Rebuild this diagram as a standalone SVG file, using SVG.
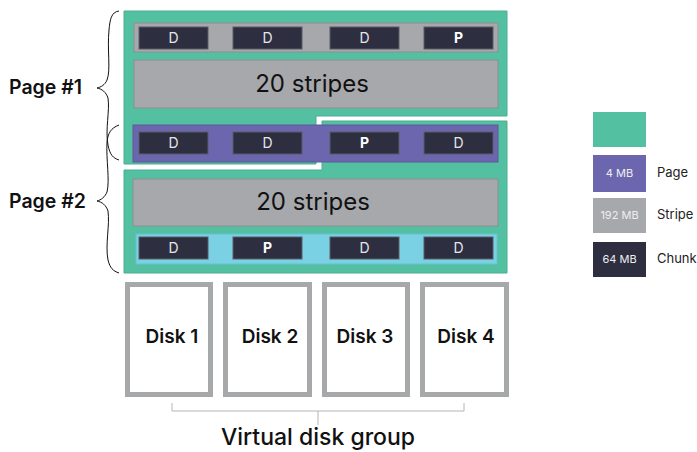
<svg xmlns="http://www.w3.org/2000/svg" width="697" height="452" viewBox="0 0 697 452">
<style>
.page{fill:#52c0a1;stroke:#4aae91;stroke-width:1}
.stripe{fill:#a7a8ab;stroke:#8d8e91;stroke-width:1}
.chunk{fill:#2d2f40;stroke:#5a5c66;stroke-width:1}
.cl{font-family:Inter,"Liberation Sans",sans-serif;font-size:14px;fill:#e6e6ea;text-anchor:middle}
.clb{font-weight:700;fill:#ffffff}
.big{font-family:Inter,"Liberation Sans",sans-serif;font-size:24px;fill:#111;text-anchor:middle}
.disk{fill:#ffffff;stroke:#a7a8aa;stroke-width:5}
.dl{font-family:Inter,"Liberation Sans",sans-serif;font-size:19px;font-weight:600;fill:#111;text-anchor:middle}
.brace{fill:none;stroke:#111;stroke-width:1}
.pl{font-family:Inter,"Liberation Sans",sans-serif;font-size:19.5px;font-weight:600;fill:#111}
.lg{font-family:Inter,"Liberation Sans",sans-serif;font-size:13px;fill:#222}
.lw{font-family:Inter,"Liberation Sans",sans-serif;font-size:11px;fill:#eeeeee;text-anchor:middle}
</style>

<g id="page1-area">
<polygon class="page" points="124,11 507,11 507,116 316,116 316,164 124,164"/>
</g>
<g id="page2-area">
<polygon class="page" points="322,121 507,121 507,273 124,273 124,170 322,170"/>
</g>

<g id="stripe-row1">
<rect class="stripe" x="134" y="23" width="364" height="29"/>
<rect class="chunk" x="139" y="27" width="69" height="22"/><text class="cl" x="173.5" y="43">D</text>
<rect class="chunk" x="233" y="27" width="69" height="22"/><text class="cl" x="267.5" y="43">D</text>
<rect class="chunk" x="330" y="27" width="69" height="22"/><text class="cl" x="364.5" y="43">D</text>
<rect class="chunk" x="424" y="27" width="69" height="22"/><text class="cl clb" x="458.5" y="43">P</text>
</g>

<g id="stripes-block1">
<rect class="stripe" x="134" y="60" width="364" height="48"/>
<text class="big" x="312" y="92">20 stripes</text>
</g>

<g id="stripe-row-purple">
<rect x="133" y="125" width="365" height="37" fill="#6b66ad" stroke="#5c589a" stroke-width="1"/>
<rect class="chunk" x="139" y="132" width="69" height="22"/><text class="cl" x="173.5" y="148">D</text>
<rect class="chunk" x="233" y="132" width="69" height="22"/><text class="cl" x="267.5" y="148">D</text>
<rect class="chunk" x="330" y="132" width="69" height="22"/><text class="cl clb" x="364.5" y="148">P</text>
<rect class="chunk" x="424" y="132" width="69" height="22"/><text class="cl" x="458.5" y="148">D</text>
</g>

<g id="stripes-block2">
<rect class="stripe" x="133" y="179" width="365" height="47"/>
<text class="big" x="313" y="210">20 stripes</text>
</g>

<g id="stripe-row-cyan">
<rect x="136" y="234" width="361" height="30" fill="#7ad1e4" stroke="#6bbfd2" stroke-width="1"/>
<rect class="chunk" x="139" y="237" width="69" height="22"/><text class="cl" x="173.5" y="253">D</text>
<rect class="chunk" x="233" y="237" width="69" height="22"/><text class="cl clb" x="267.5" y="253">P</text>
<rect class="chunk" x="330" y="237" width="69" height="22"/><text class="cl" x="364.5" y="253">D</text>
<rect class="chunk" x="424" y="237" width="69" height="22"/><text class="cl" x="458.5" y="253">D</text>
</g>

<g id="page1-brace">
<path class="brace" d="M119,11 C111,12 110,20 109,30 C107,50 111,70 107,80 C105,85 101,87 97,88 C102,89 106,92 108,98 C110,110 105,130 108,145 C110,155 113,158 119,160"/>
<text class="pl" x="9" y="94">Page #1</text>
</g>
<g id="page2-brace">
<path class="brace" d="M119,125 C111,128 108,133 107,142 C106,160 110,180 107,192 C105,197 101,200 97,201 C102,202 106,205 108,211 C110,225 105,245 108,260 C110,268 113,271 119,273"/>
<text class="pl" x="9" y="208">Page #2</text>
</g>

<g id="disk1"><rect class="disk" x="127.5" y="284.5" width="83" height="110"/><text class="dl" x="172" y="343">Disk 1</text></g>
<g id="disk2"><rect class="disk" x="225.5" y="284.5" width="84" height="110"/><text class="dl" x="270" y="343">Disk 2</text></g>
<g id="disk3"><rect class="disk" x="324.5" y="284.5" width="83" height="110"/><text class="dl" x="365" y="343">Disk 3</text></g>
<g id="disk4"><rect class="disk" x="422.5" y="284.5" width="84" height="110"/><text class="dl" x="466" y="343">Disk 4</text></g>

<g id="connectors">
<path d="M172,403 L172,411 L464,411 L464,403 M318,411 L318,425" fill="none" stroke="#b5b6b8" stroke-width="1"/>
</g>
<g id="group-label">
<text x="318" y="445" font-family="Inter,'Liberation Sans',sans-serif" font-size="23" font-weight="500" fill="#111" text-anchor="middle">Virtual disk group</text>
</g>

<g id="legend">
<rect x="593" y="112" width="53" height="35" fill="#52c0a1"/>
<rect x="593" y="155" width="53" height="37" fill="#6b66ad"/><text class="lw" x="619.5" y="177">4 MB</text><text class="lg" x="657" y="177">Page</text>
<rect x="593" y="198" width="53" height="35" fill="#a7a8ab"/><text class="lw" x="619.5" y="219">192 MB</text><text class="lg" x="657" y="219">Stripe</text>
<rect x="593" y="242" width="53" height="35" fill="#2d2f40"/><text class="lw" x="619.5" y="263">64 MB</text><text class="lg" x="657" y="263">Chunk</text>
</g>
</svg>
